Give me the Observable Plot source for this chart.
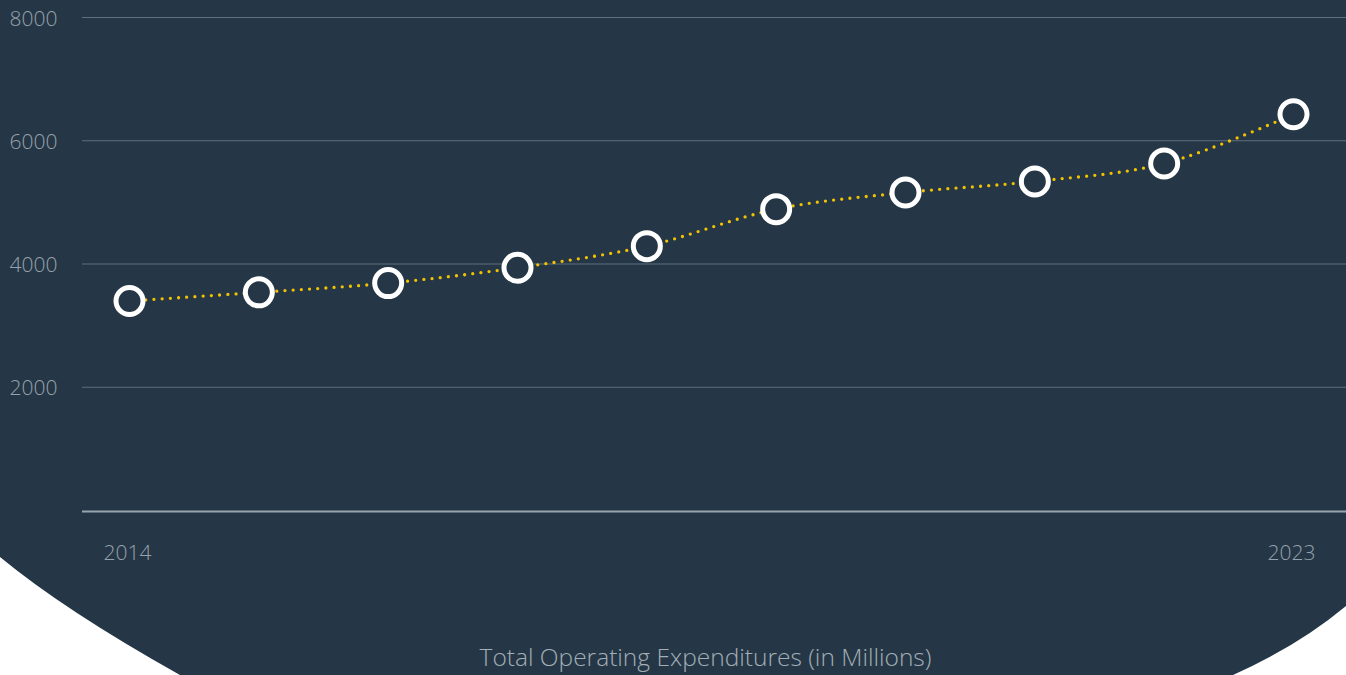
<!DOCTYPE html>
<html>
<head>
<meta charset="utf-8">
<script src="https://cdn.jsdelivr.net/npm/d3@7"></script>
<script src="https://cdn.jsdelivr.net/npm/@observablehq/plot@0.6"></script>
<style>
  html, body { margin: 0; padding: 0; }
  body { width: 1346px; height: 675px; background: #253746; overflow: hidden; position: relative; font-family: "Open Sans", sans-serif; }
  #deco { position: absolute; left: 0; top: 0; z-index: 0; }
  #chart { position: absolute; left: 0; top: 0; z-index: 1; }
  #title { position: absolute; left: 0; width: 1411px; top: 640px; text-align: center; z-index: 1;
           font-family: "Open Sans", sans-serif; font-weight: 300; font-size: 24.5px; color: #a3aeb6; white-space: nowrap; }
</style>
</head>
<body>
<svg id="deco" width="1346" height="675">
  <path d="M0,557 Q64,610 180,675 L0,675 Z" fill="#ffffff"/>
  <path d="M1346,606 Q1298,646 1233,675 L1346,675 Z" fill="#ffffff"/>
</svg>
<div id="chart"></div>
<div id="title">Total Operating Expenditures (in Millions)</div>
<script>
const years = [2014, 2015, 2016, 2017, 2018, 2019, 2020, 2021, 2022, 2023];
const expenditures = [3400, 3540, 3690, 3940, 4290, 4890, 5160, 5340, 5630, 6430];
const yTicks = [2000, 4000, 6000, 8000];
const xTicks = [2014, 2023];

const data = years.map((y, i) => ({year: y, value: expenditures[i]}));

const bg = "#253746";
const chart = Plot.plot({
  width: 1346,
  height: 580,
  marginTop: 17,
  marginBottom: 70,
  marginLeft: 82,
  marginRight: 0,
  insetLeft: 47,
  insetRight: 53,
  style: {background: "transparent", fontFamily: "'Open Sans', sans-serif", fontWeight: 300, fontSize: "21px", color: "#95a1ab", overflow: "visible"},
  x: {domain: [2014, 2023]},
  y: {domain: [0, 8000]},
  marks: [
    Plot.gridY(yTicks, {stroke: "#5f6f7b", strokeOpacity: 1, strokeWidth: 1}),
    Plot.ruleY([0], {stroke: "#9aa6ae", strokeWidth: 2, dy: 1}),
    Plot.axisY(yTicks, {tickSize: 0, tickPadding: 0, textAnchor: "start", dx: -73, dy: 1.5, tickFormat: d => String(d), fill: "#95a1ab", fontSize: 21, label: null}),
    Plot.axisX(xTicks, {tickSize: 0, tickPadding: 35, tickFormat: d => String(d), fill: "#95a1ab", fontSize: 21, label: null, dx: -2}),
    Plot.line(data, {x: "year", y: "value", stroke: "#f2c200", strokeWidth: 3.3, strokeDasharray: "0,8.2", strokeLinecap: "round", curve: "catmull-rom"}),
    Plot.dot(data, {x: "year", y: "value", r: 13.5, fill: bg, stroke: "#ffffff", strokeWidth: 5})
  ]
});
document.getElementById("chart").appendChild(chart);
</script>
</body>
</html>
